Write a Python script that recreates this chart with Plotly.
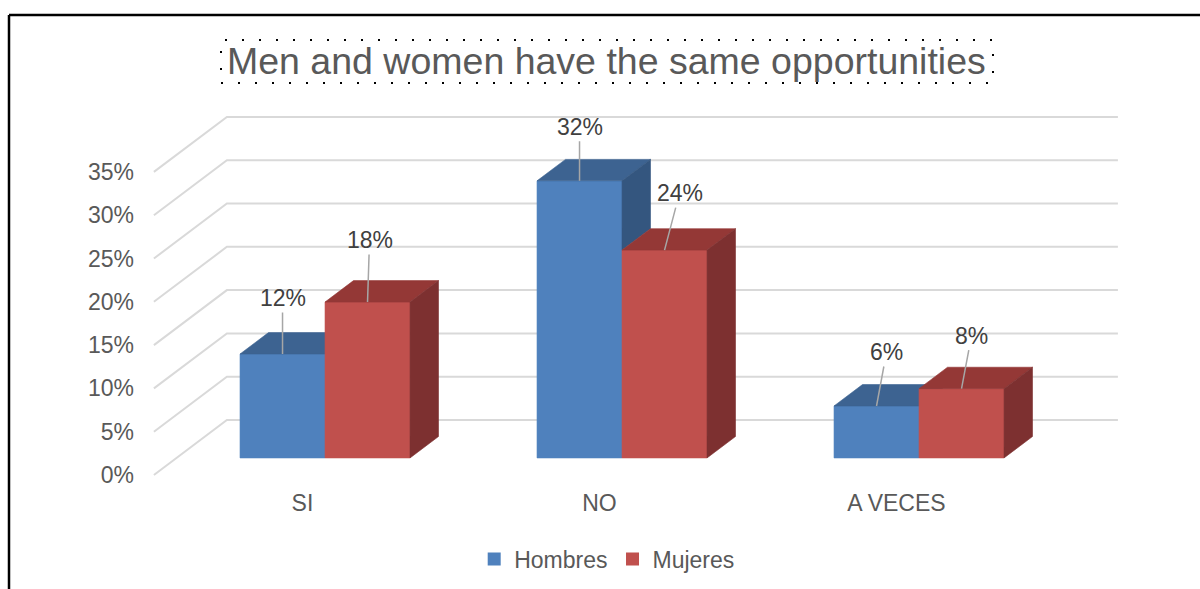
import plotly.graph_objects as go

# ---------------- data ----------------
categories = ["SI", "NO", "A VECES"]
hombres = [12, 32, 6]
mujeres = [18, 24, 8]
series_names = ["Hombres", "Mujeres"]
y_ticks = [0, 5, 10, 15, 20, 25, 30, 35]
y_tick_labels = ["0%", "5%", "10%", "15%", "20%", "25%", "30%", "35%"]
title_text = "Men and women have the same opportunities"

# ---------------- layout / projection constants ----------------
W, H = 1200, 589
PX_PER_CAT = 297.0      # pixels per category step
CAT0_PX = 302.4         # pixel x of first category centre (floor front)
ZERO_PX = 475.0         # pixel y of 0% (floor front)
PX_PER_PCT = 8.66       # pixels per percentage point
DX = 73.0 / PX_PER_CAT  # full-depth shift in x (category units)
DY = 55.0 / PX_PER_PCT  # full-depth shift in y (percent units)
D_FRONT, D_BACK = 0.31, 0.70
BAR_W = 85.0 / PX_PER_CAT
WALL_X = (-0.5, len(categories) - 0.5)

FACE_COLORS = [
    {"front": "#4F81BD", "top": "#3D6391", "side": "#34567F"},
    {"front": "#C0504D", "top": "#943836", "side": "#7D3030"},
]
GRID_COLOR = "#D9D9D9"
TEXT_GRAY = "#595959"
LABEL_COLOR = "#404040"
FONT = "Liberation Sans, Arial, sans-serif"
LABEL_OFFSETS = [[(0, -56), (2, -62)], [(0, -54), (15, -57)], [(10, -54), (10, -53)]]


def P(x, v, d):
    return x + d * DX, v + d * DY


def poly(pts):
    xs = [p[0] for p in pts] + [pts[0][0]]
    ys = [p[1] for p in pts] + [pts[0][1]]
    return xs, ys


fig = go.Figure()

# gridlines (left wall diagonal + back wall)
gx, gy = [], []
for t in y_ticks:
    for (x, d) in [(WALL_X[0], 0), (WALL_X[0], 1), (WALL_X[1], 1)]:
        px, py = P(x, t, d)
        gx.append(px)
        gy.append(py)
    gx.append(None)
    gy.append(None)
fig.add_trace(go.Scatter(x=gx, y=gy, mode="lines", line=dict(color=GRID_COLOR, width=2),
                         hoverinfo="skip", showlegend=False))

series = [hombres, mujeres]
annotations = []
for i, cat in enumerate(categories):
    for s, vals in enumerate(series):
        v = vals[i]
        xl = i + (s - 1) * BAR_W
        xr = xl + BAR_W
        cols = FACE_COLORS[s]
        front = [P(xl, 0, D_FRONT), P(xr, 0, D_FRONT), P(xr, v, D_FRONT), P(xl, v, D_FRONT)]
        top = [P(xl, v, D_FRONT), P(xr, v, D_FRONT), P(xr, v, D_BACK), P(xl, v, D_BACK)]
        if s < len(series) - 1:
            v_low = min(v, series[s + 1][i])
        else:
            v_low = 0
        faces = [("front", front), ("top", top)]
        if v > v_low:
            side = [P(xr, v_low, D_FRONT), P(xr, v_low, D_BACK), P(xr, v, D_BACK), P(xr, v, D_FRONT)]
            faces.append(("side", side))
        for name, pts in faces:
            xs, ys = poly(pts)
            fig.add_trace(go.Scatter(x=xs, y=ys, mode="lines", fill="toself",
                                     fillcolor=cols[name],
                                     line=dict(color=cols[name], width=0.6),
                                     hoverinfo="skip", showlegend=False))
        ax_, ay_ = P((xl + xr) / 2, v, D_FRONT)
        ox, oy = LABEL_OFFSETS[i][s]
        annotations.append(dict(x=ax_, y=ay_, xref="x", yref="y", text=f"{v}%",
                                showarrow=True, arrowhead=0, arrowwidth=1.5,
                                arrowcolor="#A6A6A6", ax=ox, ay=oy, standoff=0,
                                font=dict(family=FONT, size=23, color=LABEL_COLOR)))

# legend entries
for s, name in enumerate(series_names):
    fig.add_trace(go.Scatter(x=[None], y=[None], mode="markers", name=name,
                             marker=dict(symbol="square", size=13, color=FACE_COLORS[s]["front"])))

# title
annotations.append(dict(x=606 / W, y=1 - 61 / H, xref="paper", yref="paper", text=title_text,
                        showarrow=False, xanchor="center", yanchor="middle",
                        font=dict(family=FONT, size=37.5, color=TEXT_GRAY)))

shapes = [
    dict(type="line", xref="paper", yref="paper", x0=9 / W, x1=1, y0=1 - 15 / H, y1=1 - 15 / H,
         line=dict(color="black", width=2.5)),
    dict(type="line", xref="paper", yref="paper", x0=9 / W, x1=9 / W, y0=0, y1=1 - 15 / H,
         line=dict(color="black", width=2.5)),
    dict(type="rect", xref="paper", yref="paper", x0=221 / W, x1=993 / W, y0=1 - 83 / H, y1=1 - 40 / H,
         line=dict(color="black", width=2, dash="2px,15px")),
]

x_range = [(0 - CAT0_PX) / PX_PER_CAT, (W - CAT0_PX) / PX_PER_CAT]
y_range = [(ZERO_PX - H) / PX_PER_PCT, ZERO_PX / PX_PER_PCT]

fig.update_layout(
    width=W, height=H,
    margin=dict(l=0, r=0, t=0, b=0),
    paper_bgcolor="white", plot_bgcolor="white",
    xaxis=dict(range=x_range, tickvals=list(range(len(categories))), ticktext=categories,
               showgrid=False, zeroline=False, showline=False, ticks="",
               anchor="free", position=1 - 487 / H, automargin=False,
               tickfont=dict(family=FONT, size=23, color=TEXT_GRAY)),
    yaxis=dict(range=y_range, tickvals=y_ticks, ticktext=y_tick_labels,
               showgrid=False, zeroline=False, showline=False, ticks="",
               anchor="free", position=134 / W, automargin=False,
               tickfont=dict(family=FONT, size=23, color=TEXT_GRAY)),
    legend=dict(orientation="h", x=0.506, xanchor="center", y=1 - 559 / H, yanchor="middle",
                font=dict(family=FONT, size=23, color=TEXT_GRAY), bgcolor="rgba(0,0,0,0)"),
    annotations=annotations,
    shapes=shapes,
    showlegend=True,
)

fig.write_html("out.html", config={"displayModeBar": False},
               post_script="document.body.style.margin='0';document.body.style.overflow='hidden';")
